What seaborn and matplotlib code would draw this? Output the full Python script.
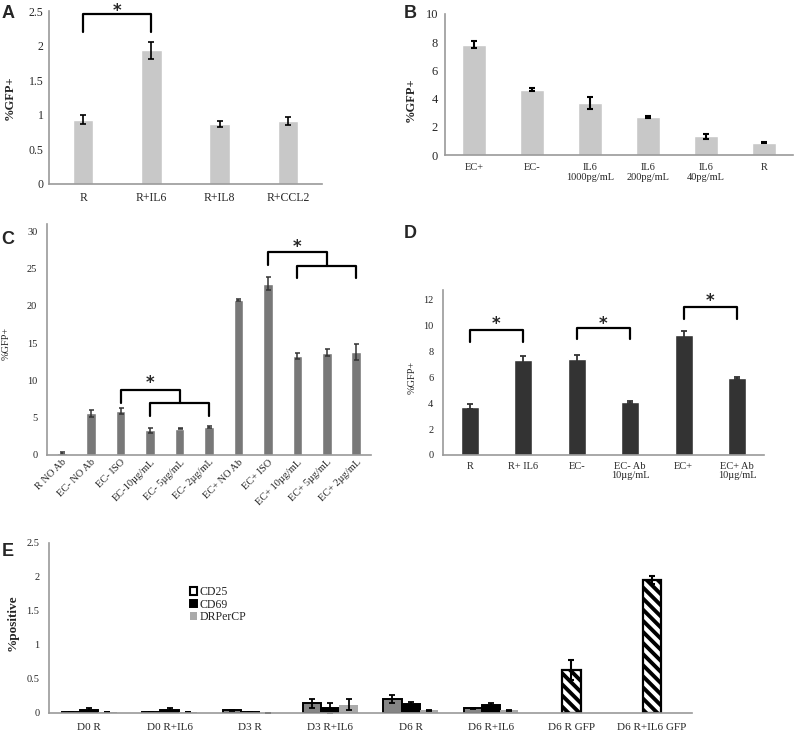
import numpy as np
import pandas as pd
import matplotlib.pyplot as plt
import seaborn as sns

sns.set_theme(style="white")
plt.rcParams['font.family'] = ['Liberation Serif', 'DejaVu Serif']
plt.rcParams['hatch.linewidth'] = 2.8

# Panel A
a_labels = ['R', 'R+IL6', 'R+IL8', 'R+CCL2']
a_vals = [0.93, 1.93, 0.87, 0.91]
a_err = [0.06, 0.12, 0.04, 0.06]

# Panel B
b_labels = ['EC+', 'EC-', 'IL6\n1000pg/mL', 'IL6\n200pg/mL', 'IL6\n40pg/mL', 'R']
b_vals = [7.82, 4.64, 3.68, 2.70, 1.33, 0.87]
b_err = [0.25, 0.08, 0.45, 0.07, 0.18, 0.04]

# Panel C
c_labels = ['R NO Ab', 'EC- NO Ab', 'EC- ISO', 'EC-10µg/mL', 'EC- 5µg/mL', 'EC- 2µg/mL',
            'EC+ NO Ab', 'EC+ ISO', 'EC+ 10µg/mL', 'EC+ 5µg/mL', 'EC+ 2µg/mL']
c_vals = [0.3, 5.6, 5.9, 3.3, 3.55, 3.75, 20.8, 23.0, 13.3, 13.75, 13.85]
c_err = [0.15, 0.45, 0.4, 0.3, 0.1, 0.1, 0.1, 0.85, 0.45, 0.45, 1.05]

# Panel D
d_labels = ['R', 'R+ IL6', 'EC-', 'EC- Ab\n10µg/mL', 'EC+', 'EC+ Ab\n10µg/mL']
d_vals = [3.72, 7.32, 7.42, 4.08, 9.2, 5.92]
d_err = [0.2, 0.32, 0.3, 0.08, 0.36, 0.05]

# Panel E
e_groups = ['D0 R', 'D0 R+IL6', 'D3 R', 'D3 R+IL6', 'D6 R', 'D6 R+IL6', 'D6 R GFP', 'D6 R+IL6 GFP']
e_markers = ['CD25', 'CD69', 'DRPerCP']
e_cd25 = [0.02, 0.02, 0.04, 0.14, 0.20, 0.07, np.nan, np.nan]
e_cd25_err = [0.0, 0.0, 0.01, 0.07, 0.06, 0.01, np.nan, np.nan]
e_cd69 = [0.05, 0.04, 0.02, 0.07, 0.13, 0.12, np.nan, np.nan]
e_cd69_err = [0.02, 0.03, 0.0, 0.07, 0.03, 0.02, np.nan, np.nan]
e_dr = [0.01, 0.01, 0.0, 0.12, 0.04, 0.04, np.nan, np.nan]
e_dr_err = [0.0, 0.0, 0.0, 0.08, 0.01, 0.01, np.nan, np.nan]
e_gfp = [np.nan] * 6 + [0.63, 1.95]
e_gfp_err = [np.nan] * 6 + [0.15, 0.06]

W, H = 796, 734
fig = plt.figure(figsize=(W / 100, H / 100), dpi=100)


def px_axes(left, top, right, bottom):
    return fig.add_axes([left / W, 1 - bottom / H, (right - left) / W, (bottom - top) / H])


def style_ax(ax, n, ymax, yticks, ysize, ypad, ylen=0):
    ax.set_xlim(-0.5, n - 0.5)
    ax.set_ylim(0, ymax)
    ax.set_yticks(yticks)
    ax.set_yticklabels([f'{t:g}' for t in yticks])
    for s in ['top', 'right']:
        ax.spines[s].set_visible(False)
    for s in ['left', 'bottom']:
        ax.spines[s].set_color('#9a9a9a')
        ax.spines[s].set_linewidth(1.2)
    ax.set_xticks(np.arange(n + 1) - 0.5, minor=True)
    ax.tick_params(axis='x', which='major', length=0)
    ax.tick_params(axis='x', which='minor', length=4, color='#9a9a9a', width=1)
    ax.tick_params(axis='y', length=ylen, color='#9a9a9a', labelsize=ysize, pad=ypad)
    ax.set_xlabel('')
    ax.grid(False)


def bracket(ax, x1, x2, ytop, ybot1, ybot2):
    ax.plot([x1, x1, x2, x2], [ybot1, ytop, ytop, ybot2], color='black', lw=1.6, clip_on=False)


def star(ax, x, y):
    ax.text(x, y, '*', ha='center', va='center', fontsize=12, fontweight='bold',
            family='DejaVu Sans', clip_on=False)


def errs(ax, x, vals, err, color='black', lw=1.2, cap=2.2):
    ax.errorbar(x, vals, yerr=err, fmt='none', ecolor=color, elinewidth=lw,
                capsize=cap, capthick=lw)


# ---- A ----
axA = px_axes(49, 11, 322, 184)
sns.barplot(x=a_labels, y=a_vals, ax=axA, color='#c8c8c8', width=0.3, saturation=1)
errs(axA, np.arange(4), a_vals, a_err)
style_ax(axA, 4, 2.5, [0, 0.5, 1, 1.5, 2, 2.5], 8.5, 2, ylen=2)
axA.tick_params(axis='x', labelsize=8.5, pad=6)
axA.set_ylabel('%GFP+', fontsize=9, fontweight='bold')
axA.yaxis.set_label_coords(-0.12, 0.5)
bracket(axA, 0, 1, 2.46, 2.2, 2.2)
star(axA, 0.5, 2.5)

# ---- B ----
axB = px_axes(445, 14, 793, 155)
sns.barplot(x=b_labels, y=b_vals, ax=axB, color='#c8c8c8', width=0.4, saturation=1)
errs(axB, np.arange(6), b_vals, b_err, lw=1.5)
style_ax(axB, 6, 10, [0, 2, 4, 6, 8, 10], 9, 5, ylen=0)
axB.tick_params(axis='x', labelsize=7.5, pad=6)
for t in axB.get_xticklabels():
    t.set_verticalalignment('top')
    t.set_linespacing(1.1)
axB.set_ylabel('%GFP+', fontsize=9, fontweight='bold')
axB.yaxis.set_label_coords(-0.08, 0.39)

# ---- C ----
axC = px_axes(47, 224, 371, 455)
sns.barplot(x=c_labels, y=c_vals, ax=axC, color='#787878', width=0.33, saturation=1)
errs(axC, np.arange(11), c_vals, c_err, color='#333333', lw=1.1, cap=1.8)
style_ax(axC, 11, 31, [0, 5, 10, 15, 20, 25, 30], 7.5, 7, ylen=0)
axC.tick_params(axis='x', labelsize=7.5, pad=2)
for t in axC.get_xticklabels():
    t.set_rotation(45)
    t.set_ha('right')
    t.set_rotation_mode('anchor')
axC.set_ylabel('%GFP+', fontsize=7.5)
axC.yaxis.set_label_coords(-0.112, 0.485)
# lower brackets
bracket(axC, 2, 4, 8.75, 7.0, 7.0)
bracket(axC, 3, 5, 7.0, 5.3, 5.3)
star(axC, 3, 9.7)
# upper brackets
bracket(axC, 7, 9, 27.2, 25.5, 25.4)
bracket(axC, 8, 10, 25.4, 23.8, 23.8)
star(axC, 8, 27.85)

# ---- D ----
axD = px_axes(443, 290, 764, 455)
sns.barplot(x=d_labels, y=d_vals, ax=axD, color='#333333', width=0.33, saturation=1)
errs(axD, np.arange(6), d_vals, d_err, color='#333333', lw=1.3, cap=2)
style_ax(axD, 6, 12.7, [0, 2, 4, 6, 8, 10, 12], 7.5, 7, ylen=0)
axD.tick_params(axis='x', labelsize=7.5, pad=5)
for t in axD.get_xticklabels():
    t.set_verticalalignment('top')
    t.set_linespacing(1.05)
axD.set_ylabel('%GFP+', fontsize=7.5)
axD.yaxis.set_label_coords(-0.081, 0.47)
bracket(axD, 0, 1, 9.6, 8.7, 8.7)
star(axD, 0.5, 10.05)
bracket(axD, 2, 3, 9.75, 8.9, 8.9)
star(axD, 2.5, 10.1)
bracket(axD, 4, 5, 11.4, 10.5, 10.5)
star(axD, 4.5, 11.85)

# ---- E ----
axE = px_axes(49, 543, 692, 713)
e_rows = []
for g, a, b, c in zip(e_groups, e_cd25, e_cd69, e_dr):
    for m, v in zip(e_markers, [a, b, c]):
        if not np.isnan(v):
            e_rows.append({'group': g, 'marker': m, 'value': v})
df_e = pd.DataFrame(e_rows)
sns.barplot(data=df_e, x='group', y='value', hue='marker', order=e_groups, hue_order=e_markers,
            palette=['#858585', '#000000', '#aaaaaa'], width=0.68, saturation=1,
            edgecolor='black', linewidth=1.4, ax=axE)
for p in axE.containers[2]:
    p.set_edgecolor('none')

df_gfp = pd.DataFrame({'group': e_groups, 'value': e_gfp}).dropna()
sns.barplot(data=df_gfp, x='group', y='value', order=e_groups, color='white', width=0.68 / 3,
            saturation=1, edgecolor='black', linewidth=1.6, hatch='\\\\\\', ax=axE)

bw = 0.68 / 3
xs = np.arange(len(e_groups))
errs(axE, xs - bw, e_cd25, e_cd25_err, lw=1.3, cap=2)
errs(axE, xs, e_cd69, e_cd69_err, lw=1.3, cap=2)
errs(axE, xs + bw, e_dr, e_dr_err, lw=1.3, cap=2)
errs(axE, xs, e_gfp, e_gfp_err, lw=1.5, cap=2.5)

style_ax(axE, 8, 2.5, [0, 0.5, 1, 1.5, 2, 2.5], 7.5, 7, ylen=0)
axE.tick_params(axis='x', labelsize=8, pad=7)
axE.set_ylabel('%positive', fontsize=9.5, fontweight='bold')
axE.yaxis.set_label_coords(-0.048, 0.53)
leg = axE.legend(loc='upper left', bbox_to_anchor=(0.212, 0.775), frameon=False,
                 handlelength=0.6, handleheight=0.6, handletextpad=0.2, labelspacing=0.05,
                 fontsize=8.5, borderaxespad=0)
leg.legend_handles[0].set_facecolor('white')
leg.legend_handles[0].set_linewidth(1.5)
leg.legend_handles[2].set_edgecolor('none')

# panel letters
for letter, (x, y) in {'A': (8, 13), 'B': (410, 13), 'C': (8, 240), 'D': (410, 234), 'E': (8, 551)}.items():
    fig.text(x / W, 1 - y / H, letter, fontsize=13, fontweight='bold', family='Liberation Sans',
             ha='center', va='center')

fig.savefig('out.png', dpi=100)
